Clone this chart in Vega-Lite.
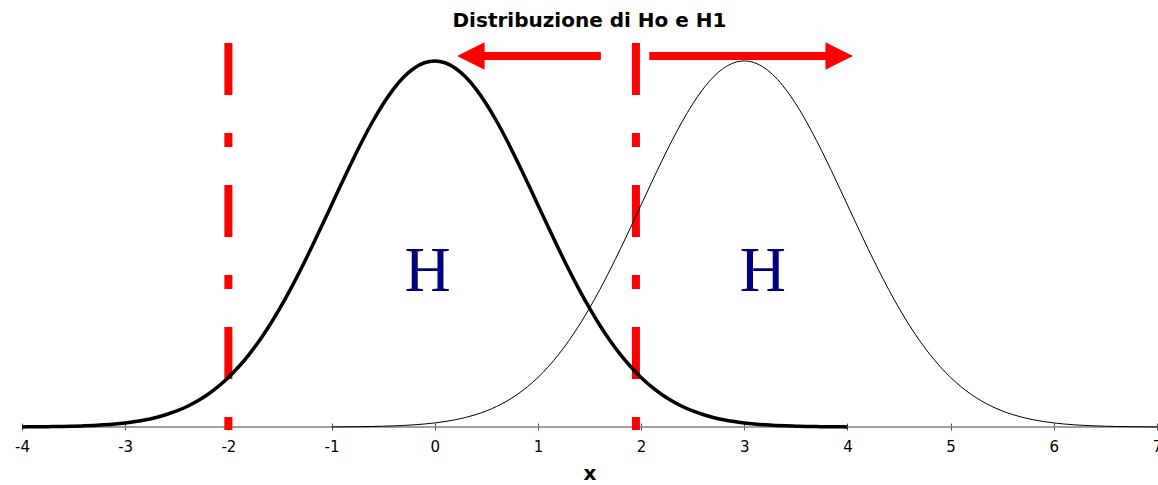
{
  "$schema": "https://vega.github.io/schema/vega-lite/v6.json",
  "width": 1135,
  "height": 404,
  "autosize": {"type": "none"},
  "padding": {"left": 22, "top": 23, "right": 1, "bottom": 58},
  "background": "white",
  "config": {"view": {"stroke": null}},
  "title": {
    "text": "Distribuzione di Ho e H1",
    "font": "DejaVu Sans",
    "fontSize": 20,
    "fontWeight": "bold",
    "color": "black",
    "anchor": "middle",
    "offset": -8
  },
  "datasets": {
    "h0": [
      {"x": -4.0, "y": 0.00013}, {"x": -3.9, "y": 0.00020}, {"x": -3.8, "y": 0.00029}, {"x": -3.7, "y": 0.00042}, {"x": -3.6, "y": 0.00061},
      {"x": -3.5, "y": 0.00087}, {"x": -3.4, "y": 0.00123}, {"x": -3.3, "y": 0.00172}, {"x": -3.2, "y": 0.00238}, {"x": -3.1, "y": 0.00327},
      {"x": -3.0, "y": 0.00443}, {"x": -2.9, "y": 0.00595}, {"x": -2.8, "y": 0.00792}, {"x": -2.7, "y": 0.01042}, {"x": -2.6, "y": 0.01358},
      {"x": -2.5, "y": 0.01753}, {"x": -2.4, "y": 0.02239}, {"x": -2.3, "y": 0.02833}, {"x": -2.2, "y": 0.03547}, {"x": -2.1, "y": 0.04398},
      {"x": -2.0, "y": 0.05399}, {"x": -1.9, "y": 0.06562}, {"x": -1.8, "y": 0.07895}, {"x": -1.7, "y": 0.09405}, {"x": -1.6, "y": 0.11092},
      {"x": -1.5, "y": 0.12952}, {"x": -1.4, "y": 0.14973}, {"x": -1.3, "y": 0.17137}, {"x": -1.2, "y": 0.19419}, {"x": -1.1, "y": 0.21785},
      {"x": -1.0, "y": 0.24197}, {"x": -0.9, "y": 0.26609}, {"x": -0.8, "y": 0.28969}, {"x": -0.7, "y": 0.31225}, {"x": -0.6, "y": 0.33322},
      {"x": -0.5, "y": 0.35207}, {"x": -0.4, "y": 0.36827}, {"x": -0.3, "y": 0.38139}, {"x": -0.2, "y": 0.39104}, {"x": -0.1, "y": 0.39695},
      {"x": 0.0, "y": 0.39894},
      {"x": 0.1, "y": 0.39695}, {"x": 0.2, "y": 0.39104}, {"x": 0.3, "y": 0.38139}, {"x": 0.4, "y": 0.36827}, {"x": 0.5, "y": 0.35207},
      {"x": 0.6, "y": 0.33322}, {"x": 0.7, "y": 0.31225}, {"x": 0.8, "y": 0.28969}, {"x": 0.9, "y": 0.26609}, {"x": 1.0, "y": 0.24197},
      {"x": 1.1, "y": 0.21785}, {"x": 1.2, "y": 0.19419}, {"x": 1.3, "y": 0.17137}, {"x": 1.4, "y": 0.14973}, {"x": 1.5, "y": 0.12952},
      {"x": 1.6, "y": 0.11092}, {"x": 1.7, "y": 0.09405}, {"x": 1.8, "y": 0.07895}, {"x": 1.9, "y": 0.06562}, {"x": 2.0, "y": 0.05399},
      {"x": 2.1, "y": 0.04398}, {"x": 2.2, "y": 0.03547}, {"x": 2.3, "y": 0.02833}, {"x": 2.4, "y": 0.02239}, {"x": 2.5, "y": 0.01753},
      {"x": 2.6, "y": 0.01358}, {"x": 2.7, "y": 0.01042}, {"x": 2.8, "y": 0.00792}, {"x": 2.9, "y": 0.00595}, {"x": 3.0, "y": 0.00443},
      {"x": 3.1, "y": 0.00327}, {"x": 3.2, "y": 0.00238}, {"x": 3.3, "y": 0.00172}, {"x": 3.4, "y": 0.00123}, {"x": 3.5, "y": 0.00087},
      {"x": 3.6, "y": 0.00061}, {"x": 3.7, "y": 0.00042}, {"x": 3.8, "y": 0.00029}, {"x": 3.9, "y": 0.00020}, {"x": 4.0, "y": 0.00013}
    ],
    "h1": [
      {"x": -1.0, "y": 0.00013}, {"x": -0.9, "y": 0.00020}, {"x": -0.8, "y": 0.00029}, {"x": -0.7, "y": 0.00042}, {"x": -0.6, "y": 0.00061},
      {"x": -0.5, "y": 0.00087}, {"x": -0.4, "y": 0.00123}, {"x": -0.3, "y": 0.00172}, {"x": -0.2, "y": 0.00238}, {"x": -0.1, "y": 0.00327},
      {"x": 0.0, "y": 0.00443}, {"x": 0.1, "y": 0.00595}, {"x": 0.2, "y": 0.00792}, {"x": 0.3, "y": 0.01042}, {"x": 0.4, "y": 0.01358},
      {"x": 0.5, "y": 0.01753}, {"x": 0.6, "y": 0.02239}, {"x": 0.7, "y": 0.02833}, {"x": 0.8, "y": 0.03547}, {"x": 0.9, "y": 0.04398},
      {"x": 1.0, "y": 0.05399}, {"x": 1.1, "y": 0.06562}, {"x": 1.2, "y": 0.07895}, {"x": 1.3, "y": 0.09405}, {"x": 1.4, "y": 0.11092},
      {"x": 1.5, "y": 0.12952}, {"x": 1.6, "y": 0.14973}, {"x": 1.7, "y": 0.17137}, {"x": 1.8, "y": 0.19419}, {"x": 1.9, "y": 0.21785},
      {"x": 2.0, "y": 0.24197}, {"x": 2.1, "y": 0.26609}, {"x": 2.2, "y": 0.28969}, {"x": 2.3, "y": 0.31225}, {"x": 2.4, "y": 0.33322},
      {"x": 2.5, "y": 0.35207}, {"x": 2.6, "y": 0.36827}, {"x": 2.7, "y": 0.38139}, {"x": 2.8, "y": 0.39104}, {"x": 2.9, "y": 0.39695},
      {"x": 3.0, "y": 0.39894},
      {"x": 3.1, "y": 0.39695}, {"x": 3.2, "y": 0.39104}, {"x": 3.3, "y": 0.38139}, {"x": 3.4, "y": 0.36827}, {"x": 3.5, "y": 0.35207},
      {"x": 3.6, "y": 0.33322}, {"x": 3.7, "y": 0.31225}, {"x": 3.8, "y": 0.28969}, {"x": 3.9, "y": 0.26609}, {"x": 4.0, "y": 0.24197},
      {"x": 4.1, "y": 0.21785}, {"x": 4.2, "y": 0.19419}, {"x": 4.3, "y": 0.17137}, {"x": 4.4, "y": 0.14973}, {"x": 4.5, "y": 0.12952},
      {"x": 4.6, "y": 0.11092}, {"x": 4.7, "y": 0.09405}, {"x": 4.8, "y": 0.07895}, {"x": 4.9, "y": 0.06562}, {"x": 5.0, "y": 0.05399},
      {"x": 5.1, "y": 0.04398}, {"x": 5.2, "y": 0.03547}, {"x": 5.3, "y": 0.02833}, {"x": 5.4, "y": 0.02239}, {"x": 5.5, "y": 0.01753},
      {"x": 5.6, "y": 0.01358}, {"x": 5.7, "y": 0.01042}, {"x": 5.8, "y": 0.00792}, {"x": 5.9, "y": 0.00595}, {"x": 6.0, "y": 0.00443},
      {"x": 6.1, "y": 0.00327}, {"x": 6.2, "y": 0.00238}, {"x": 6.3, "y": 0.00172}, {"x": 6.4, "y": 0.00123}, {"x": 6.5, "y": 0.00087},
      {"x": 6.6, "y": 0.00061}, {"x": 6.7, "y": 0.00042}, {"x": 6.8, "y": 0.00029}, {"x": 6.9, "y": 0.00020}, {"x": 7.0, "y": 0.00013}
    ],
    "critical": [
      {"x": -2.0, "top": 0.4185, "bottom": -0.0033},
      {"x": 1.95, "top": 0.4185, "bottom": -0.0033}
    ],
    "shafts": [
      {"x": 0.45, "x2": 1.61, "y": 0.4044},
      {"x": 2.08, "x2": 3.83, "y": 0.4044}
    ],
    "headsLeft": [{"x": 0.35, "y": 0.4044}],
    "headsRight": [{"x": 3.92, "y": 0.4044}],
    "labels": [
      {"x": -0.07, "y": 0.1486, "label": "H"},
      {"x": 3.18, "y": 0.1486, "label": "H"}
    ],
    "baseline": [{"x": -4, "x2": 7, "y": 0}]
  },
  "encoding": {
    "x": {
      "field": "x",
      "type": "quantitative",
      "scale": {"domain": [-4, 7], "nice": false, "zero": false},
      "axis": {
        "title": "x",
        "values": [-4, -3, -2, -1, 0, 1, 2, 3, 4, 5, 6, 7],
        "labelExpr": "'' + datum.value",
        "domain": false,
        "grid": false,
        "offset": -4,
        "tickSize": 7,
        "tickColor": "#555555",
        "tickWidth": 1,
        "labelFont": "DejaVu Sans",
        "labelFontSize": 15,
        "labelColor": "black",
        "labelPadding": 9,
        "labelFlush": false,
        "titleFont": "DejaVu Sans",
        "titleFontSize": 20,
        "titleFontWeight": "bold",
        "titleColor": "black",
        "titlePadding": 9
      }
    },
    "y": {
      "field": "y",
      "type": "quantitative",
      "scale": {"domain": [0, 0.4403], "nice": false, "zero": false},
      "axis": null
    }
  },
  "layer": [
    {
      "data": {"name": "baseline"},
      "mark": {"type": "rule", "color": "#808080", "strokeWidth": 1.5},
      "encoding": {"x2": {"field": "x2"}}
    },
    {
      "data": {"name": "critical"},
      "mark": {"type": "rule", "color": "#ff0000", "strokeWidth": 8, "strokeDash": [52, 38, 14, 38], "strokeCap": "butt"},
      "encoding": {
        "y": {"field": "top", "type": "quantitative"},
        "y2": {"field": "bottom"}
      }
    },
    {
      "data": {"name": "h1"},
      "mark": {"type": "line", "color": "black", "strokeWidth": 1, "interpolate": "monotone"}
    },
    {
      "data": {"name": "h0"},
      "mark": {"type": "line", "color": "black", "strokeWidth": 3.5, "interpolate": "monotone"}
    },
    {
      "data": {"name": "shafts"},
      "mark": {"type": "rule", "color": "#ff0000", "strokeWidth": 8, "strokeCap": "butt"},
      "encoding": {"x2": {"field": "x2"}}
    },
    {
      "data": {"name": "headsLeft"},
      "mark": {"type": "point", "shape": "M-1,0L1,-1L1,1Z", "filled": true, "color": "#ff0000", "size": 760, "opacity": 1, "strokeWidth": 0}
    },
    {
      "data": {"name": "headsRight"},
      "mark": {"type": "point", "shape": "M1,0L-1,-1L-1,1Z", "filled": true, "color": "#ff0000", "size": 760, "opacity": 1, "strokeWidth": 0}
    },
    {
      "data": {"name": "labels"},
      "mark": {"type": "text", "font": "Liberation Serif", "fontSize": 64, "color": "#000080", "align": "center", "baseline": "alphabetic"},
      "encoding": {"text": {"field": "label"}}
    }
  ]
}
